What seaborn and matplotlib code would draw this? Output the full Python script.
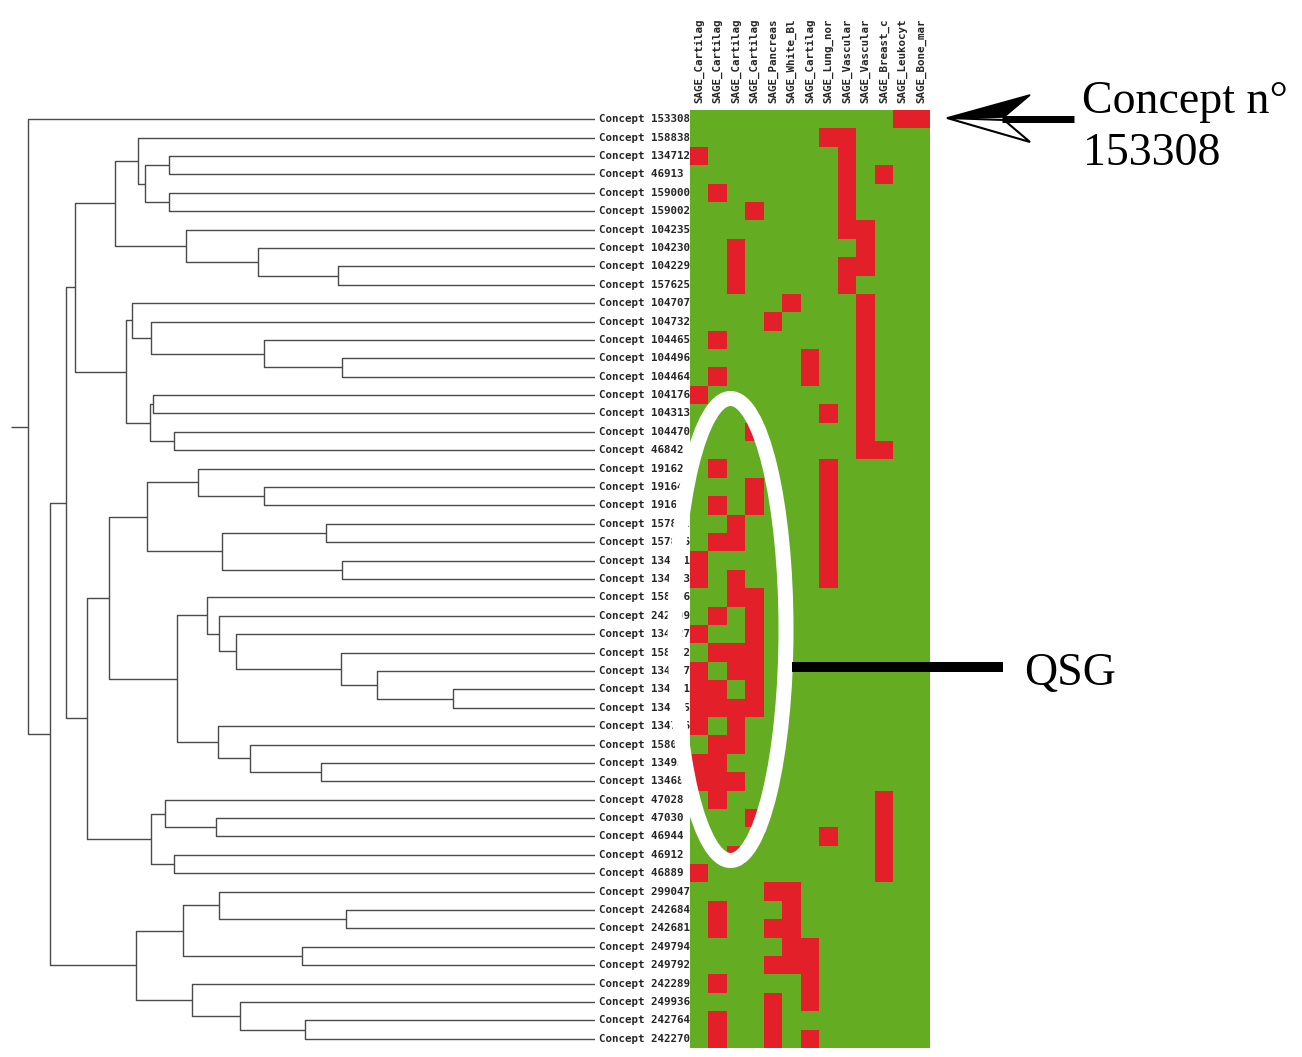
"""
Concept clustering heatmap: dendrogram of concepts against SAGE libraries,
with the highlighted QSG group and concept 153308.
"""

import matplotlib
matplotlib.use("Agg")

import numpy as np
import pandas as pd
import matplotlib.pyplot as plt
import seaborn as sns
from matplotlib.colors import ListedColormap
from matplotlib.patches import Ellipse, Polygon

# =============================================================================
# Data
# =============================================================================

tissue_labels = [
    "SAGE_Cartilag", "SAGE_Cartilag", "SAGE_Cartilag", "SAGE_Cartilag",
    "SAGE_Pancreas", "SAGE_White_Bl", "SAGE_Cartilag", "SAGE_Lung_nor",
    "SAGE_Vascular", "SAGE_Vascular", "SAGE_Breast_c", "SAGE_Leukocyt",
    "SAGE_Bone_mar",
]

concept_ids = [
    "153308", "158838", "134712", "46913", "159000", "159002", "104235",
    "104230", "104229", "157625", "104707", "104732", "104465", "104496",
    "104464", "104176", "104313", "104470", "46842", "191627", "191641",
    "191632", "157812", "157856", "134751", "134783", "158036", "242709",
    "134727", "158052", "134767", "134741", "134805", "134776", "158044",
    "134938", "134682", "47028", "47030", "46944", "46912", "46889",
    "299047", "242684", "242681", "249794", "249792", "242289", "249936",
    "242764", "242270",
]

# columns (0-based) of the red cells, one list per concept row
red_cells = [
    [11, 12], [7, 8], [0, 8], [8, 10], [1, 8], [3, 8], [8, 9],
    [2, 9], [2, 8, 9], [2, 8], [5, 9], [4, 9], [1, 9], [6, 9],
    [1, 6, 9], [0, 9], [7, 9], [3, 9], [9, 10], [1, 7], [3, 7],
    [1, 3, 7], [2, 7], [1, 2, 7], [0, 7], [0, 2, 7], [2, 3], [1, 3],
    [0, 3], [1, 2, 3], [0, 2, 3], [0, 1, 3], [0, 1, 2, 3], [0, 2], [1, 2],
    [0, 1], [0, 1, 2], [1, 10], [3, 10], [7, 10], [2, 10], [0, 10],
    [4, 5], [1, 5], [1, 4, 5], [5, 6], [4, 5, 6], [1, 6], [4, 6],
    [1, 4], [1, 4, 6],
]

# merge tree: (distance, left, right), leaves are row indices
merge_tree = (5.67, 0, (5.45,
    (5.29,
        (5.20,
            (4.80,
                (4.57, 1, (4.50, (4.26, 2, 3), (4.26, 4, 5))),
                (4.09, 6, (3.37, 7, (2.57, 8, 9)))),
            (4.69,
                (4.63, 10, (4.44, 11, (3.31, 12, (2.53, 13, 14)))),
                (4.45, (4.42, 15, 16), (4.21, 17, 18)))),
        (5.08,
            (4.86,
                (4.48,
                    (3.97, 19, (3.31, 20, 21)),
                    (3.73, (2.69, 22, 23), (2.53, 24, 25))),
                (4.18,
                    (3.88, 26, (3.76, 27, (3.59, 28,
                        (2.54, 29, (2.18, 30, (1.42, 31, 32)))))),
                    (3.77, 33, (3.45, 34, (2.74, 35, 36))))),
            (4.44,
                (4.30, 37, (3.79, 38, 39)),
                (4.21, 40, 41)))),
    (4.59,
        (4.12, (3.76, 42, (2.49, 43, 44)), (2.93, 45, 46)),
        (4.03, 47, (3.55, 48, (2.90, 49, 50))))))

# =============================================================================
# Configuration
# =============================================================================

W, H = 1302, 1057
DPI = 100

GREEN = "#64AD23"
RED = "#E3202A"
TREE_COLOR = "#4a4a4a"

HEAT_LEFT, HEAT_RIGHT = 690, 930
HEAT_TOP, HEAT_BOTTOM = 110, 1048
LEAF_X = 595

LABEL_FONT = "DejaVu Sans Mono"
NOTE_FONT = "Liberation Serif"


def px(v):
    return v * 72.0 / DPI


def draw_tree(ax, node):
    if isinstance(node, int):
        return node + 0.5, 0.0
    height, left, right = node
    y1, h1 = draw_tree(ax, left)
    y2, h2 = draw_tree(ax, right)
    ax.plot(
        [h1, height, height, h2],
        [y1, y1, y2, y2],
        color=TREE_COLOR,
        lw=1.0,
        solid_capstyle="butt",
    )
    return (y1 + y2) / 2, height


def main():

    sns.set_theme(style="white")

    fig = plt.figure(figsize=(W / DPI, H / DPI), dpi=DPI)
    fig.patch.set_facecolor("white")

    bottom = 1 - HEAT_BOTTOM / H
    height = (HEAT_BOTTOM - HEAT_TOP) / H

    # -------------------------------------------------------------------------
    # Heatmap
    # -------------------------------------------------------------------------

    matrix = np.zeros((len(concept_ids), len(tissue_labels)), dtype=int)
    for row, cols in enumerate(red_cells):
        matrix[row, cols] = 1

    row_labels = [f"Concept {cid}" for cid in concept_ids]
    heat_df = pd.DataFrame(matrix, index=row_labels)

    ax_heat = fig.add_axes([
        HEAT_LEFT / W, bottom, (HEAT_RIGHT - HEAT_LEFT) / W, height
    ])

    sns.heatmap(
        heat_df,
        ax=ax_heat,
        cmap=ListedColormap([GREEN, RED]),
        vmin=0,
        vmax=1,
        cbar=False,
        linewidths=0,
        xticklabels=tissue_labels,
        yticklabels=row_labels,
    )

    ax_heat.xaxis.tick_top()
    ax_heat.tick_params(axis="both", length=0)
    ax_heat.tick_params(axis="x", pad=px(7))
    ax_heat.tick_params(axis="y", pad=px(HEAT_LEFT - 599))

    for lab in ax_heat.get_xticklabels():
        lab.set_rotation(90)
        lab.set_fontsize(7.8)
        lab.set_fontweight("bold")
        lab.set_family(LABEL_FONT)
        lab.set_va("bottom")

    for lab in ax_heat.get_yticklabels():
        lab.set_rotation(0)
        lab.set_fontsize(7.8)
        lab.set_fontweight("bold")
        lab.set_family(LABEL_FONT)
        lab.set_ha("left")
        lab.set_va("center")

    ax_heat.set_xlabel("")
    ax_heat.set_ylabel("")

    # -------------------------------------------------------------------------
    # Dendrogram
    # -------------------------------------------------------------------------

    ax_tree = fig.add_axes([0, bottom, LEAF_X / W, height])
    root_y, root_h = draw_tree(ax_tree, merge_tree)
    ax_tree.plot(
        [root_h, root_h + 0.17], [root_y, root_y],
        color=TREE_COLOR, lw=1.0, solid_capstyle="butt",
    )
    ax_tree.set_xlim(LEAF_X / 100.0, 0)
    ax_tree.set_ylim(len(concept_ids), 0)
    ax_tree.axis("off")

    # -------------------------------------------------------------------------
    # Annotations (figure pixel space)
    # -------------------------------------------------------------------------

    ax_note = fig.add_axes([0, 0, 1, 1])
    ax_note.set_xlim(0, W)
    ax_note.set_ylim(H, 0)
    ax_note.axis("off")

    # QSG ring
    ax_note.add_patch(Ellipse(
        (730.5, 629.5), width=111, height=462,
        fill=False, edgecolor="white", lw=px(15), zorder=5,
    ))

    ax_note.plot(
        [792, 1003], [667, 667],
        color="black", lw=px(10), solid_capstyle="butt", zorder=6,
    )

    ax_note.text(
        1024, 685, "QSG",
        family=NOTE_FONT, fontsize=33, color="black",
        ha="left", va="baseline",
    )

    # arrow to concept 153308
    ax_note.add_patch(Polygon(
        [(947, 118), (1030, 95), (1004, 117)],
        closed=True, facecolor="black", edgecolor="black", lw=1.2, zorder=6,
    ))
    ax_note.add_patch(Polygon(
        [(947, 118), (1004, 120), (1030, 142)],
        closed=True, facecolor="white", edgecolor="black", lw=1.5, zorder=6,
    ))
    ax_note.plot(
        [1002, 1074], [118.5, 118.5],
        color="black", lw=px(7), solid_capstyle="butt", zorder=6,
    )

    ax_note.text(
        1082, 113, "Concept n°",
        family=NOTE_FONT, fontsize=33, color="black",
        ha="left", va="baseline",
    )
    ax_note.text(
        1083, 165, "153308",
        family=NOTE_FONT, fontsize=33, color="black",
        ha="left", va="baseline",
    )

    fig.savefig("out.png", dpi=DPI, facecolor="white")
    plt.close(fig)


if __name__ == "__main__":
    main()
